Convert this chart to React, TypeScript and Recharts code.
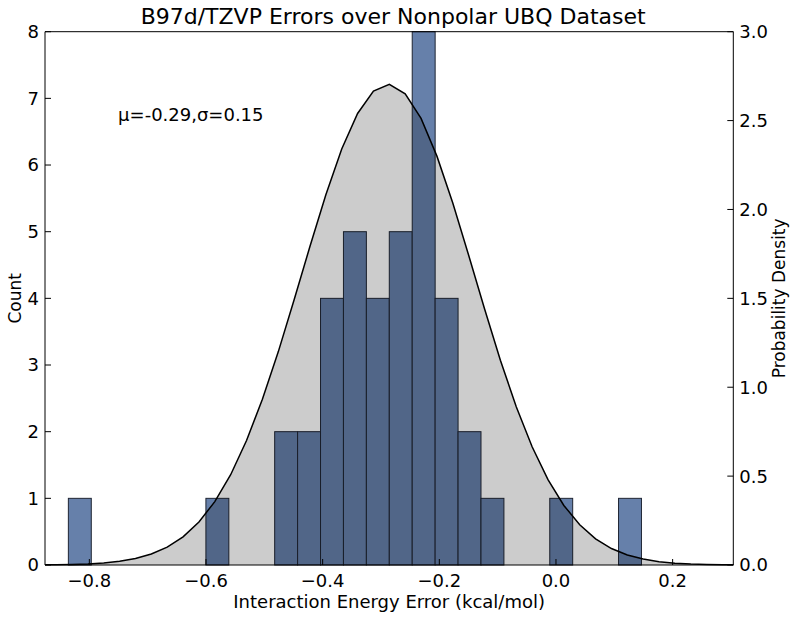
import { Area, Bar, ComposedChart, Customized, ReferenceDot, XAxis, YAxis } from "recharts"

// histogram bins (centres) and counts
const binCenters = [
  -0.8163, -0.777, -0.7377, -0.6984, -0.6591, -0.6198, -0.5805, -0.5412, -0.5019, -0.4626, -0.4233, -0.384,
  -0.3447, -0.3054, -0.2661, -0.2268, -0.1875, -0.1482, -0.1089, -0.0696, -0.0303, 0.009, 0.0483, 0.0876, 0.1269,
]
const binCounts = [1, 0, 0, 0, 0, 0, 1, 0, 0, 2, 2, 4, 5, 4, 5, 8, 4, 2, 1, 0, 0, 1, 0, 0, 1]

const curveX = [
  -0.8841, -0.8569, -0.8297, -0.8025, -0.7753, -0.7481, -0.7209, -0.6937, -0.6665, -0.6393, -0.6121, -0.5849,
  -0.5577, -0.5305, -0.5033, -0.4761, -0.4489, -0.4217, -0.3945, -0.3673, -0.3401, -0.3129, -0.2857, -0.2585,
  -0.2313, -0.2041, -0.1769, -0.1497, -0.1225, -0.0953, -0.0681, -0.0409, -0.0137, 0.0135, 0.0407, 0.0679,
  0.0951, 0.1223, 0.1495, 0.1767, 0.2039, 0.2311, 0.2583, 0.2855, 0.3127,
]
const curveDensity = [
  0.0008, 0.0016, 0.0032, 0.0062, 0.0115, 0.0208, 0.0365, 0.0616, 0.1005, 0.1586, 0.2418, 0.3567, 0.508, 0.7,
  0.932, 1.199, 1.492, 1.793, 2.083, 2.34, 2.54, 2.666, 2.704, 2.65, 2.512, 2.3, 2.036, 1.742, 1.441, 1.152, 0.89,
  0.665, 0.48, 0.335, 0.226, 0.147, 0.0927, 0.0565, 0.0332, 0.0189, 0.0104, 0.0055, 0.0028, 0.0014, 0.0007,
]

const xTicks = [-0.8, -0.6, -0.4, -0.2, 0, 0.2]
const countTicks = [0, 1, 2, 3, 4, 5, 6, 7, 8]
const densityTicks = [0, 0.5, 1, 1.5, 2, 2.5, 3]

// svg sits at the page origin (body margin cancelled)
const W = 800
const H = 619
const margin = { top: 30.7, right: 65.7, bottom: 53, left: 44 }
const X_DOMAIN: [number, number] = [-0.876, 0.304]
const BIN_WIDTH = 0.0393
const plotW = W - margin.left - margin.right - 2
const plotH = H - margin.top - margin.bottom - 2
const barPx = (BIN_WIDTH * plotW) / (X_DOMAIN[1] - X_DOMAIN[0])

const bins = binCenters.map((x, i) => ({ x, count: binCounts[i] }))
const curve = curveX.map((x, i) => ({ x, density: curveDensity[i] }))

const FONT = "DejaVu Sans"
const tickStyle = { fill: "#000", fontSize: 18, fontFamily: FONT }
const fmtX = (v: number) => (v < 0 ? `\u2212${Math.abs(v).toFixed(1)}` : v.toFixed(1))

// bar drawn at the library's x coordinate, widened to one bin
const BinBar = (p: any) => {
  if (!p.height) return null
  const cx = p.x + p.width / 2
  return (
    <rect
      x={cx - barPx / 2}
      y={p.y}
      width={barPx}
      height={p.height}
      fill="#6680aa"
      stroke="#1f2533"
      strokeWidth={1}
    />
  )
}

function Labels() {
  const cx = margin.left + 1 + plotW / 2
  const cy = margin.top + 1 + plotH / 2
  return (
    <g fontFamily={FONT} fill="#000">
      <text x={cx + 4} y={24} fontSize={22} textAnchor="middle">
        B97d/TZVP Errors over Nonpolar UBQ Dataset
      </text>
      <text x={cx} y={608} fontSize={18} textAnchor="middle">
        Interaction Energy Error (kcal/mol)
      </text>
      <text transform={`translate(20.7,${cy}) rotate(-90)`} fontSize={17} textAnchor="middle">
        Count
      </text>
      <text transform={`translate(784.6,${cy}) rotate(-90)`} fontSize={17} textAnchor="middle">
        Probability Density
      </text>
    </g>
  )
}

export default function App() {
  return (
    <div style={{ position: "absolute", left: 0, top: 0 }}>
      <ComposedChart width={W} height={H} data={bins} margin={margin}>
        <XAxis
          xAxisId="bottom"
          type="number"
          dataKey="x"
          domain={X_DOMAIN}
          allowDataOverflow
          ticks={xTicks}
          interval={0}
          tickFormatter={fmtX}
          tickSize={-6}
          tickMargin={15}
          height={1}
          tick={tickStyle}
          axisLine={{ stroke: "#000" }}
          tickLine={{ stroke: "#000" }}
        />
        <XAxis
          xAxisId="top"
          orientation="top"
          type="number"
          dataKey="x"
          domain={X_DOMAIN}
          allowDataOverflow
          ticks={xTicks}
          interval={0}
          tick={false}
          tickSize={-6}
          height={1}
          axisLine={{ stroke: "#000" }}
          tickLine={{ stroke: "#000" }}
        />
        <YAxis
          yAxisId="left"
          domain={[0, 8]}
          ticks={countTicks}
          interval={0}
          tickSize={-6}
          tickMargin={12}
          width={1}
          tick={tickStyle}
          axisLine={{ stroke: "#000" }}
          tickLine={{ stroke: "#000" }}
        />
        <YAxis
          yAxisId="right"
          orientation="right"
          domain={[0, 3]}
          ticks={densityTicks}
          interval={0}
          tickFormatter={(v: number) => v.toFixed(1)}
          tickSize={-6}
          tickMargin={12}
          width={1}
          tick={tickStyle}
          axisLine={{ stroke: "#000" }}
          tickLine={{ stroke: "#000" }}
        />
        <Bar
          xAxisId="bottom"
          yAxisId="left"
          dataKey="count"
          shape={BinBar}
          fill="#6680aa"
          isAnimationActive={false}
        />
        <Area
          xAxisId="bottom"
          yAxisId="right"
          data={curve}
          dataKey="density"
          type="linear"
          stroke="#000"
          strokeWidth={1.5}
          fill="#000"
          fillOpacity={0.2}
          dot={false}
          activeDot={false}
          zIndex={350}
          isAnimationActive={false}
        />
        <ReferenceDot
          xAxisId="bottom"
          yAxisId="left"
          x={-0.626}
          y={6.756}
          r={0}
          fill="none"
          stroke="none"
          label={{ value: "μ=-0.29,σ=0.15", position: "center", fontSize: 18, fill: "#000", fontFamily: FONT }}
        />
        <Customized component={<Labels />} />
      </ComposedChart>
    </div>
  )
}
